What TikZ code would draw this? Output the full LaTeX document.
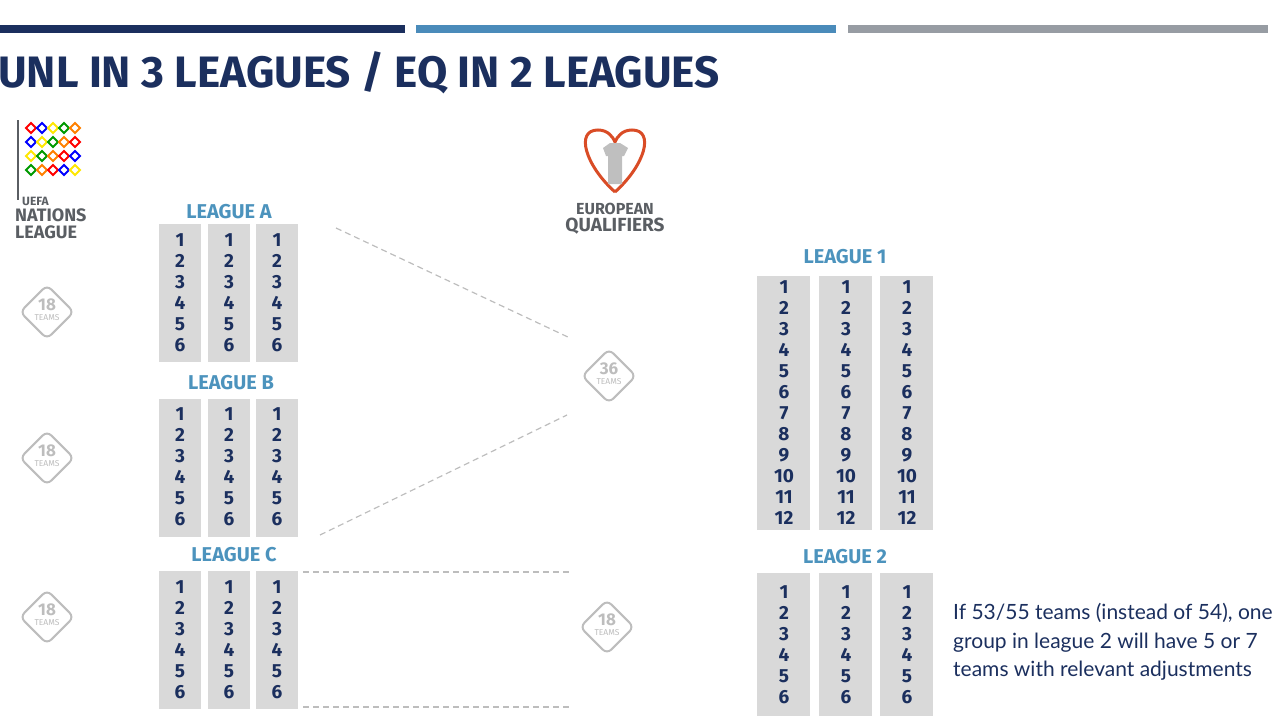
\documentclass[tikz,border=0pt]{standalone}
\usepackage{fontspec}
\setmainfont{Fira Sans}
\newfontfamily\bodyfont{Lato}
\usetikzlibrary{shapes.geometric,calc}
\definecolor{navy}{HTML}{1B2F5E}
\definecolor{lblue}{HTML}{4C93BD}
\definecolor{bargray}{HTML}{979CA3}
\definecolor{bar2}{HTML}{4A8BBA}
\definecolor{boxg}{HTML}{D9D9D9}
\definecolor{dgray}{HTML}{BDBDBD}
\definecolor{logogray}{HTML}{5A5E63}
\tikzset{
 col/.style={fill=boxg,draw=none},
 num/.style={font=\bfseries\fontsize{19}{19}\selectfont,text=navy,inner sep=0},
 lbl/.style={font=\bfseries\fontsize{20}{20}\selectfont,text=lblue,inner sep=0},
 dashline/.style={draw=dgray,line width=1.2pt,dash pattern=on 6pt off 4pt},
 badge/.style={draw=dgray,line width=2pt,rounded corners=6pt,minimum width=38pt,minimum height=38pt,rotate=45,inner sep=0},
}
\newcommand\badge[3]{%
 \node[badge] (#1) at #2 {};
 \node[text=dgray,font=\bfseries\fontsize{17}{17}\selectfont,inner sep=0] at ($#2+(0,-7)$) {#3};
 \node[text=dgray,font=\fontsize{8.5}{8.5}\selectfont,inner sep=0] at ($#2+(0,6)$) {TEAMS};}
\begin{document}
\begin{tikzpicture}[x=1pt,y=-1pt]
\useasboundingbox (0,0) rectangle (1280,720);
\fill[navy] (0,25) rectangle (405,33);
\fill[bar2] (416,25) rectangle (836,33);
\fill[bargray] (848,25) rectangle (1268,33);
\node[anchor=west,text=navy,font=\bfseries\fontsize{44}{44}\selectfont,inner sep=0] (title) at (-2,73) {UNL IN 3 LEAGUES / EQ IN 2 LEAGUES};
% NL logo approx
\fill[logogray] (17,120) rectangle (19,200);
\foreach \i in {0,...,3} \foreach \j in {0,...,4}{
 \pgfmathtruncatemacro\c{mod(\i+\j,5)}
 \ifcase\c\relax \def\cc{red}\or\def\cc{blue}\or\def\cc{yellow!90!orange}\or\def\cc{green!60!black}\or\def\cc{orange}\fi
 \draw[\cc,line width=2pt] (26+\j*11,128+\i*14) -- ++(5,-5) -- ++(5,5) -- ++(-5,5) -- cycle;}
\node[text=logogray,font=\bfseries\fontsize{12}{12}\selectfont,anchor=west,inner sep=0] (nl1) at (22,201) {UEFA};
\node[text=logogray,font=\bfseries\fontsize{18}{18}\selectfont,anchor=west,inner sep=0] (nl2) at (15,215) {NATIONS};
\node[text=logogray,font=\bfseries\fontsize{18}{18}\selectfont,anchor=west,inner sep=0] (nl3) at (15,232) {LEAGUE};
% EQ logo approx
\draw[red!40!brown,line width=3pt] (615,192) .. controls (585,165) and (575,130) .. (598,130) .. controls (608,130) and (613,137) .. (615,142) .. controls (617,137) and (622,130) .. (632,130) .. controls (655,130) and (645,165) .. (615,192);
\fill[gray!50] (603,148) -- (610,143) -- (620,143) -- (628,148) -- (624,156) -- (622,156) -- (622,184) -- (608,184) -- (608,156) -- (606,156) -- cycle;
\node[text=logogray,font=\bfseries\fontsize{16}{16}\selectfont,inner sep=0] (eq1) at (615,209) {EUROPEAN};
\node[text=logogray,font=\bfseries\fontsize{19}{19}\selectfont,inner sep=0] (eq2) at (615,226) {QUALIFIERS};
% League A, B, C
\foreach \nm/\ly/\top/\ny/\lx in {A/212/224/240/229, B/383/399/414/231, C/555/571/587/234}{
 \node[lbl] (lab\nm) at (\lx,\ly) {LEAGUE \nm};
 \foreach \x in {159,208,256}{
  \fill[col] (\x,\top) rectangle (\x+42,\top+138);
  \foreach \k in {1,...,6}\node[num] at (\x+21,\ny+\k*21-21) {\k};}}
% League 1
\node[lbl] (lab1) at (845,257) {LEAGUE 1};
\foreach \x in {757,819,880}{
 \fill[col] (\x,276) rectangle (\x+53,530);
 \foreach \k in {1,...,12}\node[num] at (\x+27,287+\k*21-21) {\k};}
\node[lbl] (lab2) at (845,557) {LEAGUE 2};
\foreach \x in {757,819,880}{
 \fill[col] (\x,573) rectangle (\x+53,716);
 \foreach \k in {1,...,6}\node[num] at (\x+27,592+\k*21-21) {\k};}
% badges
\badge{b1}{(47,312)}{18}
\badge{b2}{(47,458)}{18}
\badge{b3}{(47,617)}{18}
\badge{b4}{(609,376)}{36}
\badge{b5}{(607,627)}{18}
% dashed
\coordinate (d1a) at (336,228); \coordinate (d1b) at (570,338);
\coordinate (d2a) at (320,535); \coordinate (d2b) at (567,415);
\coordinate (d3a) at (303,572); \coordinate (d3b) at (570,572);
\coordinate (d4a) at (303,707); \coordinate (d4b) at (570,707);
\draw[dashline] (d1a) -- (d1b); \draw[dashline] (d2a) -- (d2b);
\draw[dashline] (d3a) -- (d3b); \draw[dashline] (d4a) -- (d4b);
\node[anchor=west,align=left,text=navy,font=\bodyfont\fontsize{21}{28.5}\selectfont,inner sep=0] (note) at (953,642) {If 53/55 teams (instead of 54), one\\group in league 2 will have 5 or 7\\teams with relevant adjustments};
\end{tikzpicture}
\end{document}
